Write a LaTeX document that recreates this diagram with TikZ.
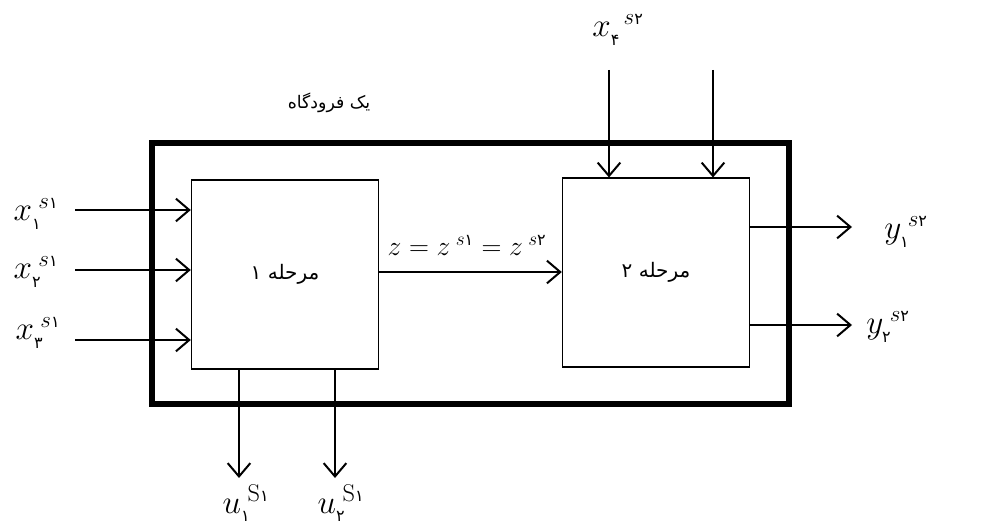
\documentclass[tikz,border=0pt]{standalone}
\usepackage{amsmath}
\usepackage{fontspec}
\usepackage{tikz}
\usetikzlibrary{arrows.meta,positioning}
\TeXXeTstate=1
\newfontfamily\fafont[Script=Arabic]{DejaVu Sans}
\newcommand{\fd}[1]{\text{\fafont\fontsize{12}{14}\selectfont #1}}
\tikzset{
  ar/.style={-{Straight Barb[length=10pt,width=17pt,line width=1.5pt]},line width=1.5pt},
  box/.style={draw,line width=0.8pt,minimum width=140.5pt,minimum height=141.75pt,inner sep=0pt},
  frame/.style={line width=3.8pt},
  lbl/.style={font=\fontsize{26}{30}\selectfont,inner sep=1pt},
  zl/.style={font=\fontsize{20}{24}\selectfont,inner sep=1pt},
  fa/.style={font=\fafont\fontsize{15}{18}\selectfont,inner sep=1pt}
}
\begin{document}
\begin{tikzpicture}[x=0.75pt,y=-0.75pt]
\useasboundingbox (0,0) rectangle (1002,527);
\draw[frame] (152,143) rectangle (789,404);
\node[box] (st1) at (285,274.5) {};
\node[box] (st2) at (656,272.5) {};
\node[fa] at (st1) {\beginR مرحله ۱\endR};
\node[fa] at (st2) {\beginR مرحله ۲\endR};
\node[fa,font=\fafont\fontsize{13}{16}\selectfont] (apt) at (329,103) {\beginR یک فرودگاه\endR};
% inputs of stage 1
\coordinate (in1) at (75,210);
\coordinate (in2) at (75,270);
\coordinate (in3) at (75,340);
\draw[ar] (in1) -- (in1 -| st1.west);
\draw[ar] (in2) -- (in2 -| st1.west);
\draw[ar] (in3) -- (in3 -| st1.west);
\node[lbl] (x1) at (36,214) {$x_{\fd{۱}}^{\;s\fd{۱}}$};
\node[lbl] (x2) at (36,272) {$x_{\fd{۲}}^{\;s\fd{۱}}$};
\node[lbl] (x3) at (38,333) {$x_{\fd{۳}}^{\;s\fd{۱}}$};
% link between stages
\coordinate (mid) at (st1.east |- 0,272);
\draw[ar] (mid) -- (mid -| st2.west);
\node[zl] (zlab) at (467,245) {$z = z^{\;s\fd{۱}} = z^{\;s\fd{۲}}$};
% inputs of stage 2
\coordinate (t1) at (609,70);
\coordinate (t2) at (713,70);
\draw[ar] (t1) -- (t1 |- st2.north);
\draw[ar] (t2) -- (t2 |- st2.north);
\node[lbl] (x4) at (618,30) {$x_{\fd{۴}}^{\;\;s\fd{۲}}$};
% outputs of stage 2
\coordinate (o1) at (852,227);
\coordinate (o2) at (852,325);
\draw[ar] (o1 -| st2.east) -- (o1);
\draw[ar] (o2 -| st2.east) -- (o2);
\node[lbl] (y1) at (906,232) {$y_{\fd{۱}}^{\;s\fd{۲}}$};
\node[lbl] (y2) at (888,327) {$y_{\fd{۲}}^{\;s\fd{۲}}$};
% outputs of stage 1
\coordinate (b1) at (239,478);
\coordinate (b2) at (335,478);
\draw[ar] (b1 |- st1.south) -- (b1);
\draw[ar] (b2 |- st1.south) -- (b2);
\node[lbl] (u1) at (246,503) {$u_{\fd{۱}}^{\;\mathrm{S}\fd{۱}}$};
\node[lbl] (u2) at (341,503) {$u_{\fd{۲}}^{\;\mathrm{S}\fd{۱}}$};
\end{tikzpicture}
\end{document}
